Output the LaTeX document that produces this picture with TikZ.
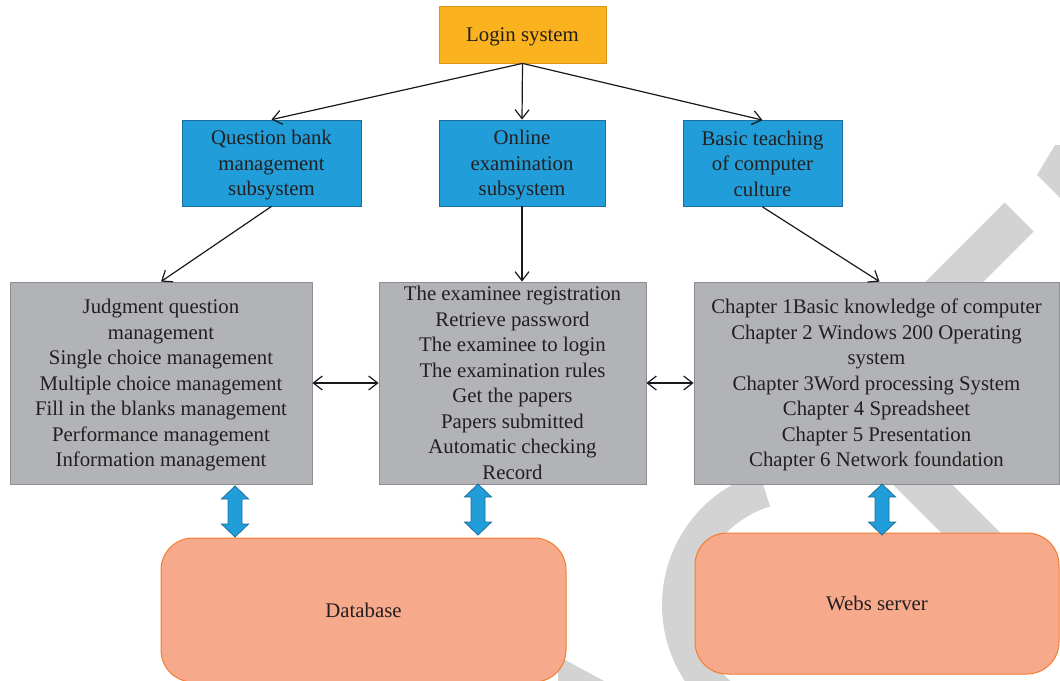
\documentclass[tikz,border=0pt]{standalone}
\usepackage{fontspec}
\setmainfont{Liberation Serif}
\usetikzlibrary{arrows.meta}
\definecolor{loginfill}{HTML}{FBB21F}
\definecolor{loginline}{HTML}{D9961A}
\definecolor{bluefill}{HTML}{219ED9}
\definecolor{blueline}{HTML}{1B6E9E}
\definecolor{greyfill}{HTML}{B2B3B6}
\definecolor{greyline}{HTML}{8C8E91}
\definecolor{salmonfill}{HTML}{F7A98B}
\definecolor{salmonline}{HTML}{F47D30}
\definecolor{markgrey}{HTML}{D3D3D3}
\definecolor{ink}{HTML}{231F20}
\begin{document}
\begin{tikzpicture}[x=1pt,y=-1pt,
  every node/.style={text=ink, font=\fontsize{20.8pt}{25.5pt}\selectfont, align=center, inner sep=0pt, text depth=0pt},
  loginbox/.style={fill=loginfill, draw=loginline, line width=0.8pt, minimum width=167pt, minimum height=57pt},
  subbox/.style={fill=bluefill, draw=blueline, line width=0.8pt, minimum height=86pt},
  listbox/.style={fill=greyfill, draw=greyline, line width=0.8pt, minimum height=202pt},
  storebox/.style={fill=salmonfill, draw=salmonline, line width=1pt, rounded corners=32pt},
  conn/.style={draw=black!90, line width=1.2pt, -{Straight Barb[length=9pt,width=14pt]}},
  biconn/.style={draw=black!90, line width=1.2pt, {Straight Barb[length=9pt,width=14pt]}-{Straight Barb[length=9pt,width=14pt]}},
  markband/.style={draw=markgrey, line cap=butt},
  dblarrow/.pic={
    \draw[fill=bluefill, draw=blueline, line width=0.8pt, line join=miter]
      (0,0) -- (13.5,13) -- (7,13) -- (7,38) -- (13.5,38) -- (0,51)
      -- (-13.5,38) -- (-7,38) -- (-7,13) -- (-13.5,13) -- cycle;
  }]
\useasboundingbox (0,0) rectangle (1060,680);

% light background emblem
\begin{scope}
  \clip (0,0) rectangle (1060,680);
  \draw[markband, line width=41pt] (1019,217) -- (930,306);
  \fill[markgrey] (1037,175) -- (1055,145) -- (1062,145) -- (1062,200) -- cycle;
  \draw[markband, line width=42pt] (895,457) -- (1010,572);
  \draw[markband, line width=35pt] (800,605) ++(107:120.5pt) arc[start angle=107, end angle=240, radius=120.5pt];
  \fill[markgrey] (558,656) -- (604,681) -- (558,681) -- cycle;
\end{scope}

% top level
\node[loginbox] (login) at (522.5,34.5) {Login system};

% subsystems
\node[subbox, minimum width=179pt] (qb) at (271.5,163) {Question bank\\management\\subsystem};
\node[subbox, minimum width=166pt] (oe) at (522,163) {Online\\examination\\subsystem};
\node[subbox, minimum width=159pt] (bt) at (762.5,163.5) {Basic teaching\\of computer\\culture};

% function lists
\node[listbox, minimum width=302pt] (lg) at (161,383) {Judgment question\\management\\Single choice management\\Multiple choice management\\Fill in the blanks management\\Performance management\\Information management};
\node[listbox, minimum width=267pt] (mg) at (512.5,383) {The examinee registration\\Retrieve password\\The examinee to login\\The examination rules\\Get the papers\\Papers submitted\\Automatic checking\\Record};
\node[listbox, minimum width=365pt] (rg) at (876.5,383) {Chapter 1Basic knowledge of computer\\Chapter 2 Windows 200 Operating\\system\\Chapter 3Word processing System\\Chapter 4 Spreadsheet\\Chapter 5 Presentation\\Chapter 6 Network foundation};

% storage
\node[storebox, minimum width=405pt, minimum height=144pt] (db) at (363.5,610) {Database};
\node[storebox, minimum width=364pt, minimum height=141pt] (ws) at (877,603.5) {Webs server};

% connectors
\draw[conn] (login.south) -- (qb.north);
\draw[conn] (login.south) -- (oe.north);
\draw[conn] (login.south) -- (bt.north);
\draw[conn] (qb.south) -- (lg.north);
\draw[conn] (oe.south) -- (oe.south |- mg.north);
\draw[conn] (bt.south) -- ([xshift=3pt]rg.north);
\draw[biconn] (lg.east) -- (mg.west);
\draw[biconn] (mg.east) -- (rg.west);

% data links
\coordinate (l1) at (235,486);
\coordinate (l2) at (478,484);
\coordinate (l3) at (882,484);
\pic at (l1) {dblarrow};
\pic at (l2) {dblarrow};
\pic at (l3) {dblarrow};
\end{tikzpicture}
\end{document}
